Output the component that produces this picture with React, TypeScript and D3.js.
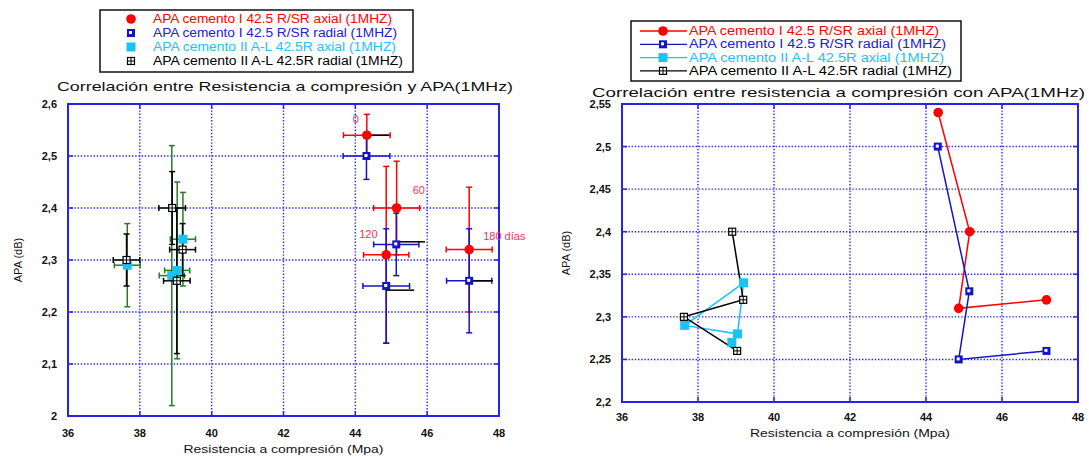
import React from "react";
import * as d3 from "d3";

// ---------- data ----------
const dayLabels = ["0", "60", "120", "180 días"];

// APA cemento I 42.5 R/SR axial (1MHZ)
const redX = [44.32, 45.15, 44.86, 47.17];
const redY = [2.54, 2.4, 2.31, 2.32];
const redXErr = [0.65, 0.64, 0.63, 0.64];
const redYErr = [0.04, 0.09, 0.17, 0.12];

// APA cemento I 42.5 R/SR radial (1MHZ)
const blueX = [44.31, 45.14, 44.86, 47.17];
const blueY = [2.5, 2.33, 2.25, 2.26];
const blueXErr = [0.65, 0.63, 0.65, 0.63];
const blueYErr = [0.045, 0.06, 0.11, 0.1];

// APA cemento II A-L 42.5R axial (1MHZ)
const cyanX = [38.89, 39.2, 39.04, 37.65];
const cyanY = [2.27, 2.34, 2.28, 2.29];
const cyanXErr = [0.35, 0.35, 0.35, 0.36];
const cyanYErr = [0.25, 0.09, 0.17, 0.08];
const cyanLineOrder = [0, 2, 3, 1, 2];

// APA cemento II A-L 42.5R radial (1MHZ)
const blackX = [38.9, 39.19, 37.63, 39.03];
const blackY = [2.4, 2.32, 2.3, 2.26];
const blackXErr = [0.37, 0.36, 0.37, 0.37];
const blackYErr = [0.07, 0.05, 0.05, 0.14];

// stray black horizontal bars in the left chart
const strayX1 = [44.32, 45.15, 44.86, 47.17];
const strayX2 = [44.94, 45.94, 45.64, 47.83];
const strayY = [2.54, 2.335, 2.242, 2.26];

const xTicks = [36, 38, 40, 42, 44, 46, 48];
const yTicksLeft = [2, 2.1, 2.2, 2.3, 2.4, 2.5, 2.6];
const yTicksRight = [2.2, 2.25, 2.3, 2.35, 2.4, 2.45, 2.5, 2.55];

const legendLabels = [
  "APA cemento I 42.5 R/SR axial (1MHZ)",
  "APA cemento I 42.5 R/SR radial (1MHZ)",
  "APA cemento II A-L 42.5R axial (1MHZ)",
  "APA cemento II A-L 42.5R radial (1MHZ)",
];

const titleLeft = "Correlación entre Resistencia a compresión y APA(1MHz)";
const titleRight = "Correlación entre resistencia a compresión con APA(1MHz)";
const xLabel = "Resistencia a compresión (Mpa)";
const yLabel = "APA (dB)";

// ---------- styles ----------
const RED = "#ff0000";
const BLUE = "#1414c4";
const CYAN = "#19c3f3";
const BLACK = "#000000";
const GREEN = "#2a7a2a";
const AXIS = "#2424ee";
const LABELRED = "#ff2d63";
const FONT = "'Liberation Sans', Arial, sans-serif";

const fmt = (v: number) => String(+v.toFixed(2)).replace(".", ",");

function Marker({ kind, x, y }: { kind: string; x: number; y: number }) {
  if (kind === "red") return <circle cx={x} cy={y} r={4.8} fill={RED} />;
  if (kind === "blue")
    return (
      <g>
        <rect x={x - 4} y={y - 4} width={8} height={8} fill={BLUE} />
        <rect x={x - 2} y={y - 2} width={3} height={3} fill="#fff" />
      </g>
    );
  if (kind === "cyan") return <rect x={x - 4.5} y={y - 4.5} width={9} height={9} fill={CYAN} />;
  return (
    <g>
      <rect x={x - 3.5} y={y - 3.5} width={7} height={7} fill="#fff" stroke={BLACK} strokeWidth={1.2} />
      <line x1={x - 3.5} x2={x + 3.5} y1={y} y2={y} stroke={BLACK} strokeWidth={1} />
      <line x1={x} x2={x} y1={y - 3.5} y2={y + 3.5} stroke={BLACK} strokeWidth={1} />
    </g>
  );
}

function ErrorBars({ xs, ys, xe, ye, color, sx, sy }: any) {
  const cap = 3;
  return (
    <g stroke={color} strokeWidth={1.5}>
      {xs.map((v: number, i: number) => {
        const cx = sx(v), cy = sy(ys[i]);
        const xa = sx(v - xe[i]), xb = sx(v + xe[i]);
        const ya = sy(ys[i] + ye[i]), yb = sy(ys[i] - ye[i]);
        return (
          <g key={i}>
            <line x1={cx} x2={cx} y1={ya} y2={yb} />
            <line x1={cx - cap} x2={cx + cap} y1={ya} y2={ya} />
            <line x1={cx - cap} x2={cx + cap} y1={yb} y2={yb} />
            <line x1={xa} x2={xb} y1={cy} y2={cy} />
            <line x1={xa} x2={xa} y1={cy - cap} y2={cy + cap} />
            <line x1={xb} x2={xb} y1={cy - cap} y2={cy + cap} />
          </g>
        );
      })}
    </g>
  );
}

function Frame({ sx, sy, yTicks, title, titleX, titleY, titleLen, xlabY, ylabX, tickLabY, yTickRight }: any) {
  const [x0, x1] = sx.range();
  const [y0, y1] = sy.range(); // y0 bottom, y1 top
  return (
    <g fontFamily={FONT}>
      {xTicks.slice(1, -1).map((t) => (
        <line key={"gx" + t} x1={sx(t)} x2={sx(t)} y1={y1} y2={y0} stroke={AXIS} strokeWidth={1.4} strokeDasharray="1.4 1.8" />
      ))}
      {yTicks.slice(1, -1).map((t: number) => (
        <line key={"gy" + t} x1={x0} x2={x1} y1={sy(t)} y2={sy(t)} stroke={AXIS} strokeWidth={1.4} strokeDasharray="1.4 1.8" />
      ))}
      {xTicks.map((t) => (
        <g key={"tx" + t} stroke={AXIS} strokeWidth={1.5}>
          <line x1={sx(t)} x2={sx(t)} y1={y0} y2={y0 - 5} />
          <line x1={sx(t)} x2={sx(t)} y1={y1} y2={y1 + 5} />
        </g>
      ))}
      {yTicks.map((t: number) => (
        <g key={"ty" + t} stroke={AXIS} strokeWidth={1.5}>
          <line x1={x0} x2={x0 + 5} y1={sy(t)} y2={sy(t)} />
          <line x1={x1} x2={x1 - 5} y1={sy(t)} y2={sy(t)} />
        </g>
      ))}
      <rect x={x0} y={y1} width={x1 - x0} height={y0 - y1} fill="none" stroke={AXIS} strokeWidth={2} />
      {xTicks.map((t) => (
        <text key={"lx" + t} x={sx(t)} y={tickLabY} textAnchor="middle" fontSize={11} fontWeight="bold" fill="#111">
          {t}
        </text>
      ))}
      {yTicks.map((t: number) => (
        <text key={"ly" + t} x={yTickRight} y={sy(t) + 4} textAnchor="end" fontSize={11} fontWeight="bold" fill="#111">
          {fmt(t)}
        </text>
      ))}
      <text x={titleX} y={titleY} fontSize={13} textLength={titleLen} lengthAdjust="spacingAndGlyphs" fill="#111">
        {title}
      </text>
      <text x={(x0 + x1) / 2} y={xlabY} textAnchor="middle" fontSize={11} textLength={200} lengthAdjust="spacingAndGlyphs" fill="#111">
        {xLabel}
      </text>
      <text transform={`translate(${ylabX},${(y0 + y1) / 2}) rotate(-90)`} textAnchor="middle" fontSize={11} fill="#111">
        {yLabel}
      </text>
    </g>
  );
}

export default function App() {
  // left chart
  const sxL = d3.scaleLinear().domain([36, 48]).range([68, 499]);
  const syL = d3.scaleLinear().domain([2, 2.6]).range([416, 104]);
  // right chart
  const sxR = d3.scaleLinear().domain([36, 48]).range([622, 1078]);
  const syR = d3.scaleLinear().domain([2.2, 2.55]).range([402, 104]);

  const line = (sx: any, sy: any) => d3.line<[number, number]>().x((d) => sx(d[0])).y((d) => sy(d[1]));
  const pts = (xs: number[], ys: number[]) => xs.map((v, i) => [v, ys[i]] as [number, number]);

  const kinds = ["red", "blue", "cyan", "black"];
  const colors = [RED, BLUE, CYAN, BLACK];
  const textColors = [RED, "#2020d8", "#28c0f0", BLACK];
  const legLenL = [239, 244, 243, 250];
  const legLenR = [250, 257, 255, 263];

  const labelOffsets = [
    [-14, -12],
    [16, -14],
    [-27, -17],
    [14, -10],
  ];

  return (
    <svg width={1089} height={457} style={{ position: "absolute", left: 0, top: 0, background: "#fff" }}>
      {/* ---------- left legend ---------- */}
      <rect x={100} y={10} width={313} height={62} fill="#fff" stroke="#111" strokeWidth={1.5} />
      {legendLabels.map((l, i) => (
        <g key={"lg" + i}>
          <Marker kind={kinds[i]} x={131} y={19 + i * 14} />
          <text x={153} y={23 + i * 14} fontFamily={FONT} fontSize={12} fill={textColors[i]} textLength={legLenL[i]} lengthAdjust="spacingAndGlyphs">
            {l}
          </text>
        </g>
      ))}

      {/* ---------- left chart ---------- */}
      <Frame sx={sxL} sy={syL} yTicks={yTicksLeft} title={titleLeft} titleX={57} titleY={91} titleLen={456} xlabY={453} ylabX={22} tickLabY={437} yTickRight={57} />
      <ErrorBars xs={redX} ys={redY} xe={redXErr} ye={redYErr} color={RED} sx={sxL} sy={syL} />
      <ErrorBars xs={blueX} ys={blueY} xe={blueXErr} ye={blueYErr} color={BLUE} sx={sxL} sy={syL} />
      <g stroke={BLACK} strokeWidth={1.5}>
        {strayX1.map((v, i) => (
          <line key={"st" + i} x1={sxL(v)} x2={sxL(strayX2[i])} y1={syL(strayY[i])} y2={syL(strayY[i])} />
        ))}
      </g>
      <ErrorBars xs={cyanX} ys={cyanY} xe={cyanXErr} ye={cyanYErr} color={GREEN} sx={sxL} sy={syL} />
      <ErrorBars xs={blackX} ys={blackY} xe={blackXErr} ye={blackYErr} color={BLACK} sx={sxL} sy={syL} />
      {redX.map((v, i) => <Marker key={"rl" + i} kind="red" x={sxL(v)} y={syL(redY[i])} />)}
      {blueX.map((v, i) => <Marker key={"bl" + i} kind="blue" x={sxL(v)} y={syL(blueY[i])} />)}
      {cyanX.map((v, i) => <Marker key={"cl" + i} kind="cyan" x={sxL(v)} y={syL(cyanY[i])} />)}
      {blackX.map((v, i) => <Marker key={"kl" + i} kind="black" x={sxL(v)} y={syL(blackY[i])} />)}
      {dayLabels.map((d, i) => (
        <text key={"dl" + i} x={sxL(redX[i]) + labelOffsets[i][0]} y={syL(redY[i]) + labelOffsets[i][1]} fontFamily={FONT} fontSize={11} fill={LABELRED}>
          {d}
        </text>
      ))}

      {/* ---------- right legend ---------- */}
      <rect x={631} y={21} width={330} height={60} fill="#fff" stroke="#111" strokeWidth={1.5} />
      {legendLabels.map((l, i) => (
        <g key={"rg" + i}>
          <line x1={640} x2={687} y1={31 + i * 13.3} y2={31 + i * 13.3} stroke={colors[i]} strokeWidth={1.3} />
          <Marker kind={kinds[i]} x={663} y={31 + i * 13.3} />
          <text x={689} y={35 + i * 13.3} fontFamily={FONT} fontSize={12} fill={textColors[i]} textLength={legLenR[i]} lengthAdjust="spacingAndGlyphs">
            {l}
          </text>
        </g>
      ))}

      {/* ---------- right chart ---------- */}
      <Frame sx={sxR} sy={syR} yTicks={yTicksRight} title={titleRight} titleX={592} titleY={97} titleLen={493} xlabY={437} ylabX={570} tickLabY={421} yTickRight={611} />
      <g fill="none" strokeWidth={1.5}>
        <path d={line(sxR, syR)(pts(redX, redY)) || ""} stroke={RED} />
        <path d={line(sxR, syR)(pts(blueX, blueY)) || ""} stroke={BLUE} />
        <path d={line(sxR, syR)(cyanLineOrder.map((k) => [cyanX[k], cyanY[k]] as [number, number])) || ""} stroke={CYAN} />
        <path d={line(sxR, syR)(pts(blackX, blackY)) || ""} stroke={BLACK} />
      </g>
      {redX.map((v, i) => <Marker key={"rr" + i} kind="red" x={sxR(v)} y={syR(redY[i])} />)}
      {blueX.map((v, i) => <Marker key={"br" + i} kind="blue" x={sxR(v)} y={syR(blueY[i])} />)}
      {cyanX.map((v, i) => <Marker key={"cr" + i} kind="cyan" x={sxR(v)} y={syR(cyanY[i])} />)}
      {blackX.map((v, i) => <Marker key={"kr" + i} kind="black" x={sxR(v)} y={syR(blackY[i])} />)}
    </svg>
  );
}
